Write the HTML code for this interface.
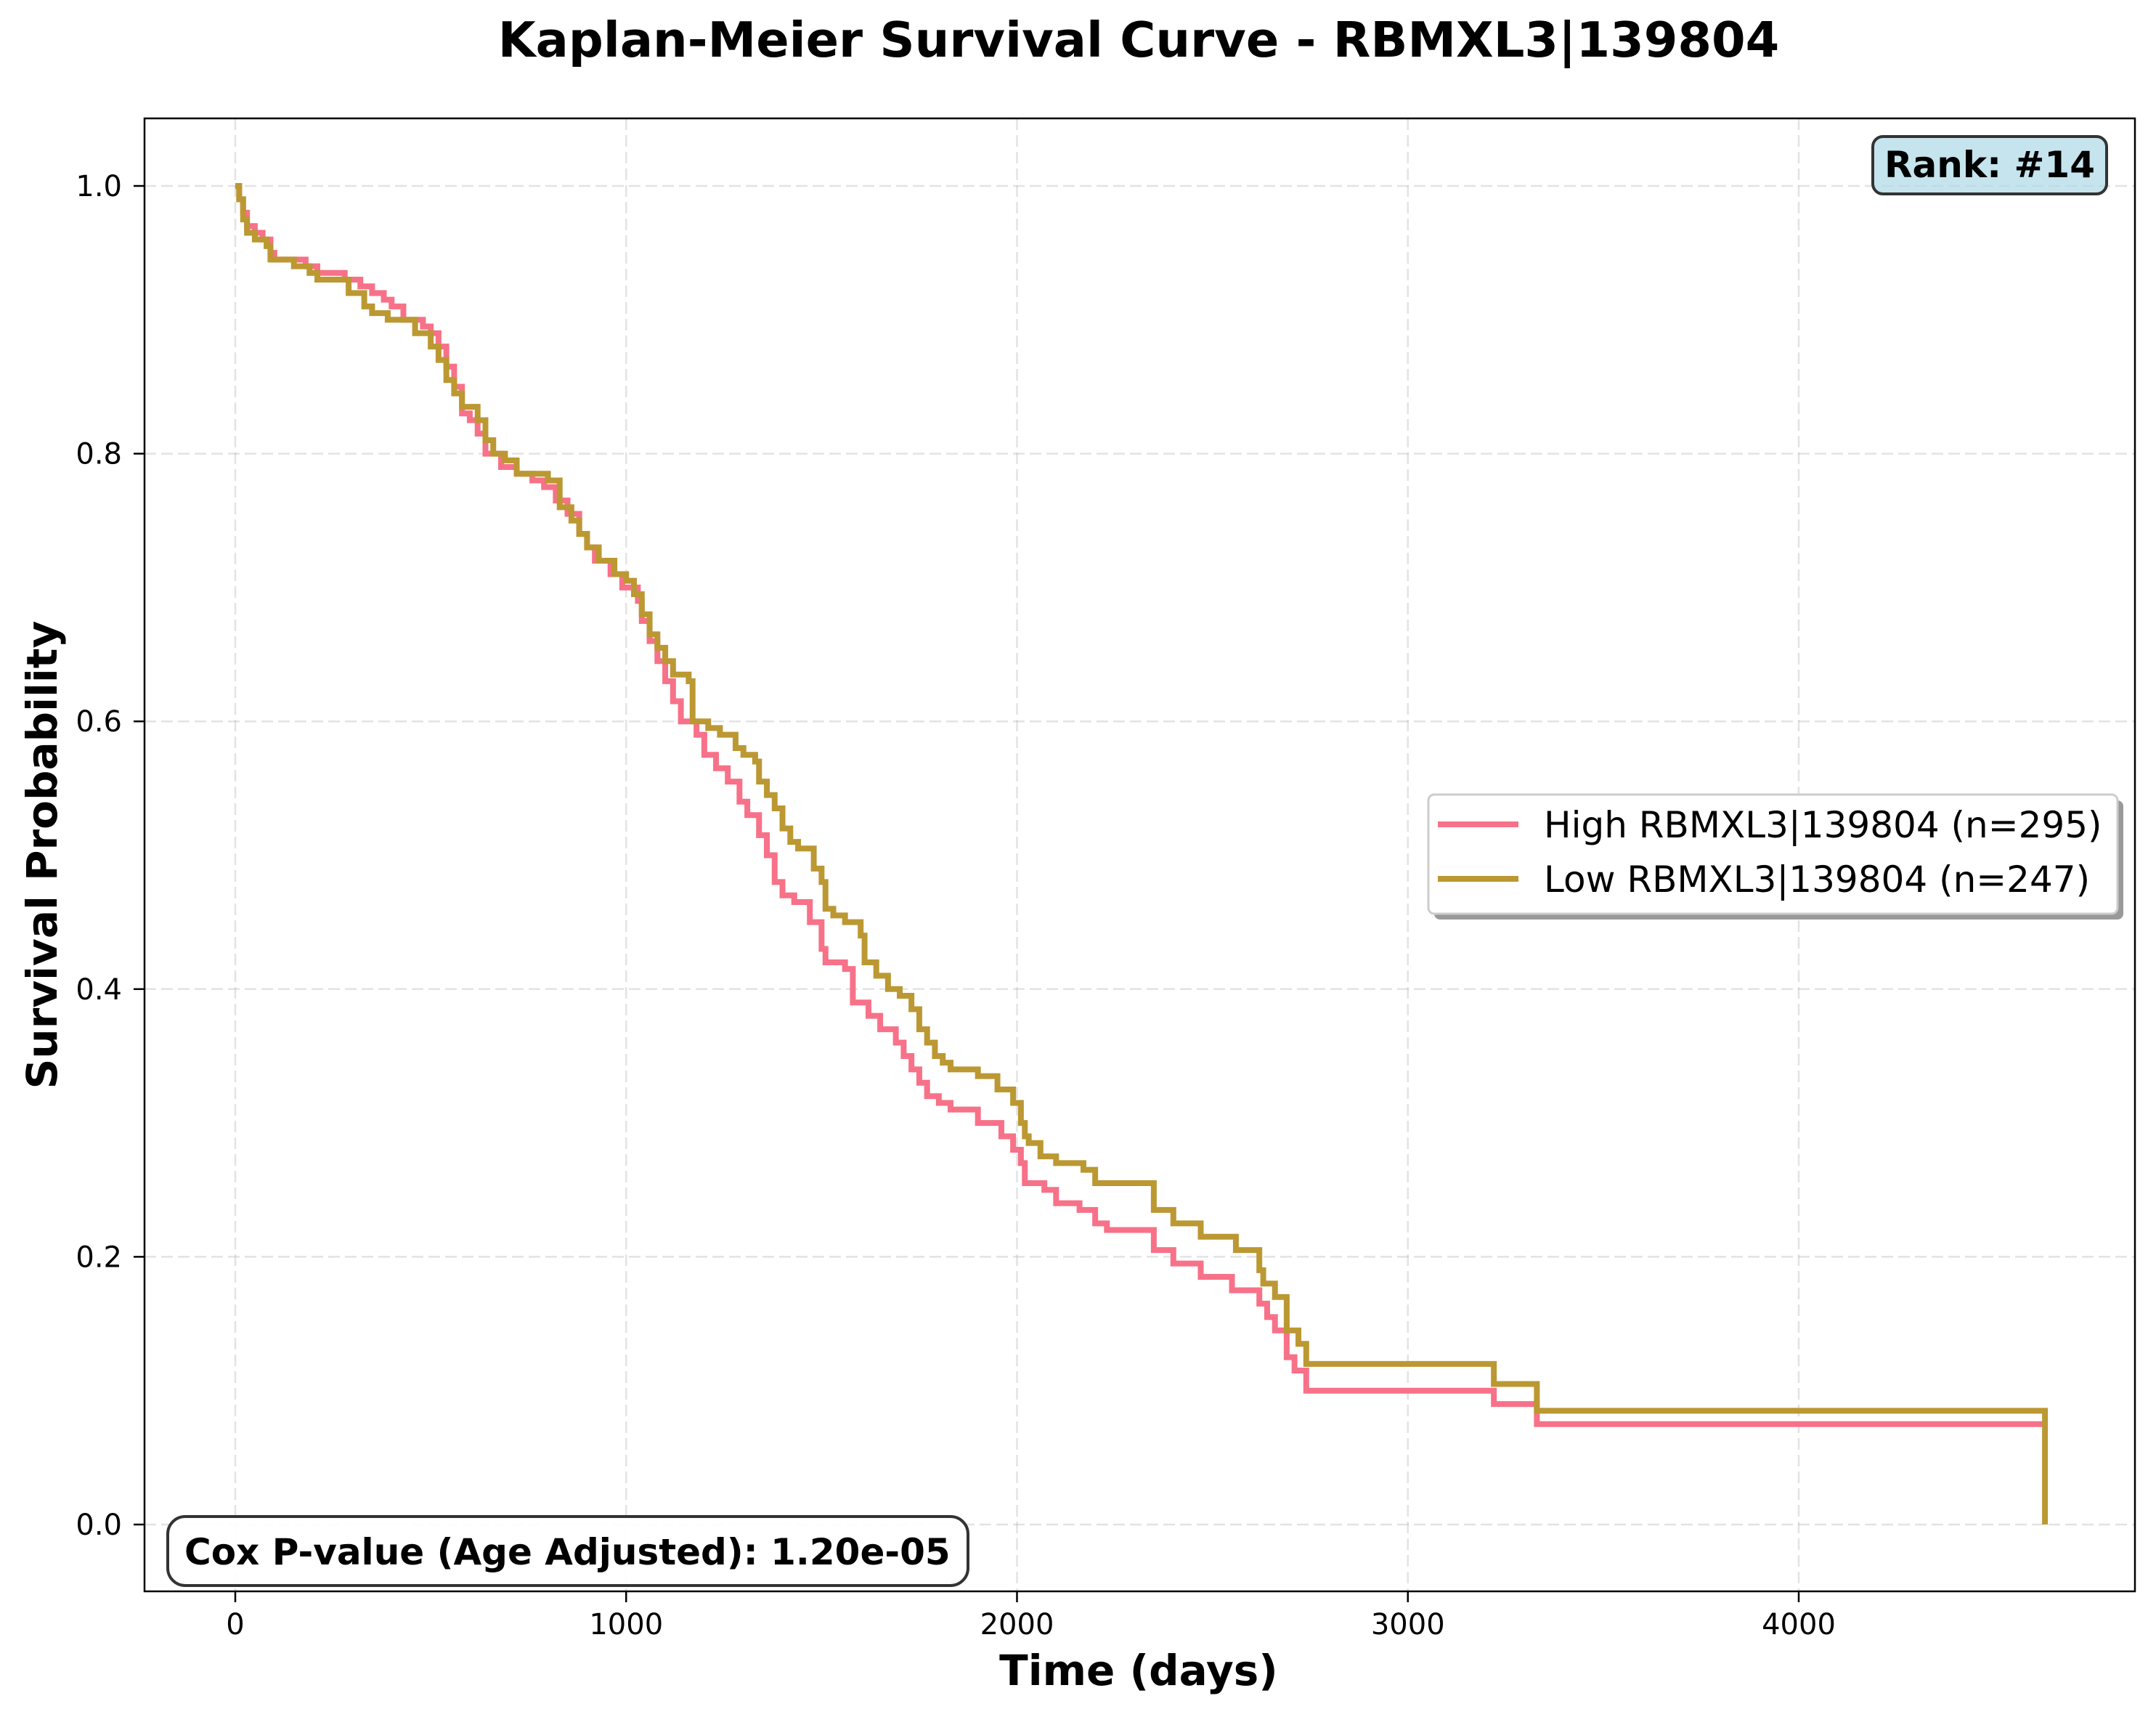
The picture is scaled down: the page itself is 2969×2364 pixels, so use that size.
<!DOCTYPE html>
<html><head><meta charset="utf-8"><style>
html,body{margin:0;padding:0;background:#fff;}
svg{display:block;font-family:"DejaVu Sans","Liberation Sans",sans-serif;}
</style></head><body>
<svg id="chart" width="2969" height="2364" viewBox="0 0 2969 2364" xmlns="http://www.w3.org/2000/svg">
<rect width="2969" height="2364" fill="#fff"/>
<text x="1568" y="78" text-anchor="middle" font-size="67" font-weight="bold">Kaplan-Meier Survival Curve - RBMXL3|139804</text>
<g id="grid"></g>
<g id="series"></g>
<rect x="199" y="163" width="2741" height="2028" fill="none" stroke="#000" stroke-width="2.5"/>
<g id="ticks"></g>
<text x="1568" y="2320" text-anchor="middle" font-size="58" font-weight="bold">Time (days)</text>
<text x="0" y="0" transform="translate(78,1177) rotate(-90)" text-anchor="middle" font-size="58" font-weight="bold">Survival Probability</text>
<g>
<rect x="2579" y="188" width="322" height="79" rx="14" fill="#add8e6" fill-opacity="0.7" stroke="#333" stroke-width="4"/>
<text x="2740" y="244" text-anchor="middle" font-size="50" font-weight="bold">Rank: #14</text>
</g>
<g>
<rect x="231" y="2088" width="1102" height="95" rx="24" fill="#fff" fill-opacity="0.9" stroke="#333" stroke-width="4"/>
<text x="254" y="2154" font-size="50" font-weight="bold">Cox P-value (Age Adjusted): 1.20e-05</text>
</g>
<g>
<rect x="1975" y="1102" width="949" height="164" rx="8" fill="#999"/>
<rect x="1967" y="1094" width="949" height="164" rx="8" fill="#fff" stroke="#ccc" stroke-width="3"/>
<line x1="1980" y1="1135" x2="2091" y2="1135" stroke="#f77189" stroke-width="8"/>
<text x="2126" y="1153" font-size="50">High RBMXL3|139804 (n=295)</text>
<line x1="1980" y1="1210" x2="2091" y2="1210" stroke="#bb9832" stroke-width="8"/>
<text x="2126" y="1228" font-size="50">Low RBMXL3|139804 (n=247)</text>
</g>
</svg>
<script>
const xTicks=[0,1000,2000,3000,4000];
const yTicks=[0.0,0.2,0.4,0.6,0.8,1.0];
const highTimes=[0,10,20,30,50,70,90,100,180,210,280,320,350,380,400,430,480,500,520,540,560,580,600,620,640,680,720,760,790,820,850,880,900,920,960,990,1030,1040,1060,1080,1100,1120,1140,1180,1200,1230,1260,1290,1310,1340,1360,1380,1400,1430,1470,1500,1510,1560,1580,1620,1650,1690,1710,1730,1750,1770,1800,1830,1900,1960,1990,2010,2020,2070,2100,2160,2200,2230,2350,2400,2470,2550,2620,2640,2660,2690,2710,2740,3220,3330,4630];
const highSurv=[1.0,0.99,0.98,0.97,0.965,0.96,0.95,0.945,0.94,0.935,0.93,0.925,0.92,0.915,0.91,0.90,0.895,0.89,0.88,0.865,0.85,0.83,0.825,0.815,0.80,0.79,0.785,0.78,0.775,0.765,0.755,0.74,0.73,0.72,0.71,0.70,0.69,0.675,0.66,0.645,0.63,0.615,0.60,0.59,0.575,0.565,0.555,0.54,0.53,0.515,0.50,0.48,0.47,0.465,0.45,0.43,0.42,0.415,0.39,0.38,0.37,0.36,0.35,0.34,0.33,0.32,0.315,0.31,0.30,0.29,0.28,0.27,0.255,0.25,0.24,0.235,0.225,0.22,0.205,0.195,0.185,0.175,0.165,0.155,0.145,0.125,0.115,0.10,0.09,0.075,0.075];
const lowTimes=[0,10,20,30,50,80,90,150,190,210,290,330,350,390,460,500,520,540,560,580,620,640,660,690,720,800,830,860,880,900,930,970,1000,1020,1040,1060,1080,1100,1120,1160,1170,1210,1240,1280,1300,1330,1340,1360,1380,1400,1420,1440,1480,1500,1510,1530,1560,1600,1610,1640,1670,1700,1730,1750,1770,1790,1810,1830,1900,1950,1990,2010,2020,2030,2060,2100,2170,2200,2350,2400,2470,2560,2620,2630,2660,2690,2720,2740,3220,3330,4630,4630];
const lowSurv=[1.0,0.99,0.975,0.965,0.96,0.955,0.945,0.94,0.935,0.93,0.92,0.91,0.905,0.90,0.89,0.88,0.87,0.855,0.845,0.835,0.825,0.81,0.80,0.795,0.785,0.78,0.76,0.75,0.74,0.73,0.72,0.71,0.705,0.695,0.68,0.665,0.655,0.645,0.635,0.63,0.60,0.595,0.59,0.58,0.575,0.57,0.555,0.545,0.535,0.52,0.51,0.505,0.49,0.48,0.46,0.455,0.45,0.44,0.42,0.41,0.40,0.395,0.385,0.37,0.36,0.35,0.345,0.34,0.335,0.325,0.315,0.30,0.29,0.285,0.275,0.27,0.265,0.255,0.235,0.225,0.215,0.205,0.19,0.18,0.17,0.145,0.135,0.12,0.105,0.085,0.085,0.0];

const NS='http://www.w3.org/2000/svg';
const X0=324, XPD=2153/4000, Y0=2099, YPU=1843;
function sx(t){return X0+t*XPD;}
function sy(v){return Y0-v*YPU;}
function mk(tag,attrs,parent){const e=document.createElementNS(NS,tag);for(const k in attrs)e.setAttribute(k,attrs[k]);parent.appendChild(e);return e;}
const grid=document.getElementById('grid'), ticks=document.getElementById('ticks'), series=document.getElementById('series');
xTicks.forEach(t=>{
  const g=mk('line',{x1:sx(t),x2:sx(t),y1:163,y2:2191,stroke:'#b0b0b0','stroke-opacity':0.35,'stroke-width':2.5,'stroke-dasharray':'16 7'},grid);
  
  
  const tk=mk('line',{x1:sx(t),x2:sx(t),y1:2191,y2:2206,stroke:'#000','stroke-width':2.5},ticks);
  
  
  const lb=mk('text',{x:sx(t),y:2250,'text-anchor':'middle','font-size':40},ticks);
  lb.textContent=String(t);
  
  
});
yTicks.forEach(v=>{
  const g=mk('line',{x1:199,x2:2940,y1:sy(v),y2:sy(v),stroke:'#b0b0b0','stroke-opacity':0.35,'stroke-width':2.5,'stroke-dasharray':'16 7'},grid);
  
  
  const tk=mk('line',{x1:184,x2:199,y1:sy(v),y2:sy(v),stroke:'#000','stroke-width':2.5},ticks);
  
  
  const lb=mk('text',{x:168,y:sy(v)+14,'text-anchor':'end','font-size':40},ticks);
  lb.textContent=v.toFixed(1);
  
  
});
function stepPath(ts,vs){
  let d='M'+sx(ts[0])+','+sy(vs[0]);
  for(let i=1;i<ts.length;i++){d+=' H'+sx(ts[i])+' V'+sy(vs[i]);}
  return d;
}
const pHigh=mk('path',{d:stepPath(highTimes,highSurv),fill:'none',stroke:'#f77189','stroke-width':8,'stroke-linejoin':'miter'},series);


const pLow=mk('path',{d:stepPath(lowTimes,lowSurv),fill:'none',stroke:'#bb9832','stroke-width':8,'stroke-linejoin':'miter'},series);


</script>
</body></html>
